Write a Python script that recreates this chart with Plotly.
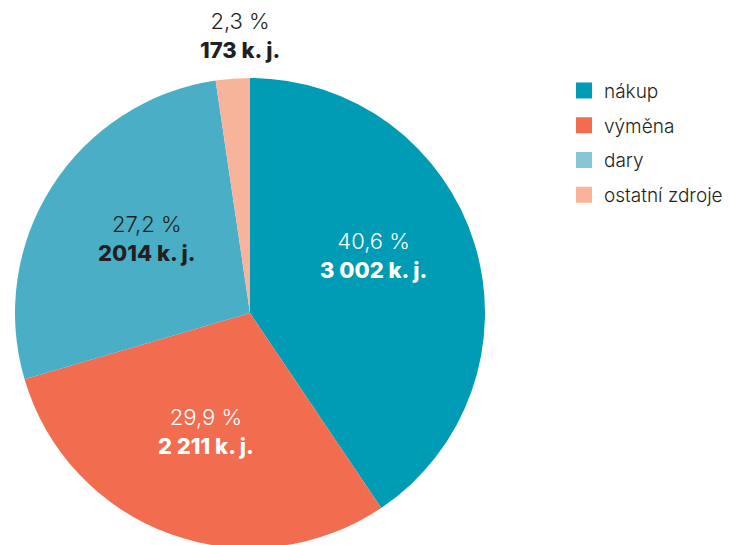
import math
import plotly.graph_objects as go

# zdroje nabytí knihovních jednotek
categories = ["nákup", "výměna", "dary", "ostatní zdroje"]
units = [3002, 2211, 2014, 173]
unit_labels = ["3 002", "2 211", "2014", "173"]
pct_labels = ["40,6 %", "29,9 %", "27,2 %", "2,3 %"]

colors = ["#009bb4", "#f26c50", "#4aafc6", "#f8b39b"]
legend_colors = ["#009bb4", "#f26c50", "#86c6d6", "#f8b39b"]
text_colors = ["white", "white", "#231f20", "#231f20"]

W, H = 733, 545
# the page body has an 8px margin, so figure coords are shifted by that
off = 8
cx, cy, r = 250 - off, 313 - off, 235   # pie centre / radius in px

# label placement: radius as fraction of r, angle nudge in degrees
label_r = [0.58, 0.54, 0.54, 1.18]
label_da = [-8, 0.7, 3.4, 2.2]

FONT = "Inter"

fig = go.Figure(go.Pie(
    labels=categories,
    values=units,
    textinfo="none",
    marker=dict(colors=colors, line=dict(width=0)),
    sort=False,
    direction="clockwise",
    rotation=0,
    hoverinfo="label+value",
    showlegend=False,
    domain=dict(x=[(cx - r) / W, (cx + r) / W],
                y=[(H - cy - r) / H, (H - cy + r) / H]),
))

# labels at slice mid-angles
total = sum(units)
start = 0
for i, v in enumerate(units):
    mid = (start + v / 2) / total * 360 + label_da[i]
    start += v
    px_ = cx + label_r[i] * r * math.sin(math.radians(mid))
    py_ = cy - label_r[i] * r * math.cos(math.radians(mid))
    fig.add_annotation(
        x=px_ / W, y=1 - py_ / H, xref="paper", yref="paper",
        xanchor="center", yanchor="middle",
        text=(f"<span style='font-weight:300'>{pct_labels[i]}</span><br>"
              f"<span style='font-weight:800'>{unit_labels[i]} k. j.</span>"),
        showarrow=False, align="center",
        font=dict(family=FONT, size=22, color=text_colors[i]),
    )

# legend entries (dummy traces so square size / spacing can be set)
for name, c in zip(categories, legend_colors):
    fig.add_trace(go.Scatter(
        x=[None], y=[None], mode="markers", name=name,
        marker=dict(symbol="square", size=16, color=c),
        legendgroup=name, hoverinfo="skip",
    ))

fig.update_xaxes(visible=False)
fig.update_yaxes(visible=False)

fig.update_layout(
    width=W, height=H,
    margin=dict(l=0, r=0, t=0, b=0),
    paper_bgcolor="white",
    plot_bgcolor="white",
    font=dict(family=FONT, color="#231f20"),
    legend=dict(
        x=0.7585, y=0.883, xanchor="left", yanchor="top",
        font=dict(size=19, color="#231f20", weight=350),
        tracegroupgap=7, itemwidth=30,
        bgcolor="rgba(0,0,0,0)",
    ),
)

fig.write_html("out.html")
